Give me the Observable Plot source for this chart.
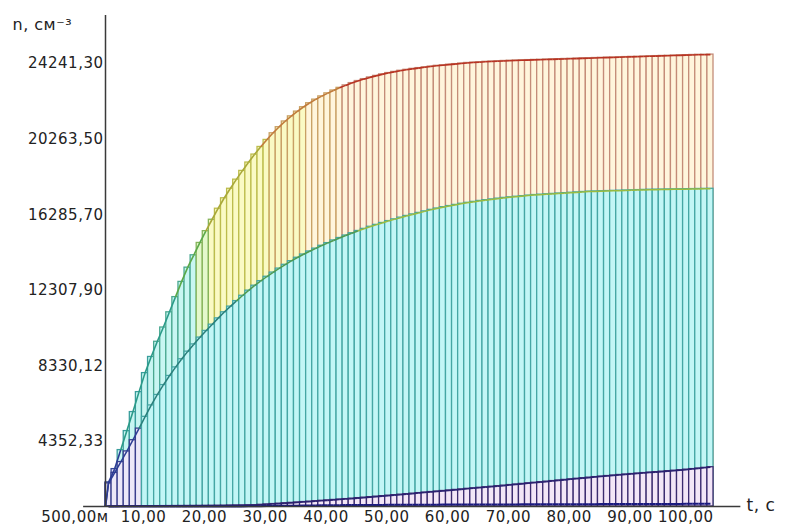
<!DOCTYPE html>
<html>
<head>
<meta charset="utf-8">
<script src="https://cdn.jsdelivr.net/npm/d3@7"></script>
<script src="https://cdn.jsdelivr.net/npm/@observablehq/plot@0.6"></script>
<style>
  html, body { margin: 0; padding: 0; background: #ffffff; }
  #chart { width: 790px; height: 527px; }
</style>
</head>
<body>
<div id="chart"></div>
<script>
// ---- data ----
const times = d3.range(1, 101); // t, s (one bar per second)

const topSeries = [
  2200, 2900, 3900, 4900, 5900, 6950, 7950, 8800, 9600, 10350,
  11150, 11950, 12750, 13500, 14150, 14800, 15420, 16020, 16600, 17150,
  17650, 18130, 18590, 19030, 19450, 19850, 20220, 20570, 20890, 21190,
  21460, 21710, 21940, 22150, 22340, 22510, 22670, 22820, 22960, 23090,
  23210, 23320, 23420, 23510, 23590, 23670, 23740, 23800, 23860, 23910,
  23960, 24000, 24040, 24080, 24120, 24150, 24180, 24210, 24240, 24270,
  24290, 24310, 24330, 24345, 24360, 24375, 24390, 24400, 24410, 24420,
  24430, 24440, 24450, 24460, 24470, 24480, 24490, 24500, 24510, 24520,
  24530, 24540, 24550, 24560, 24570, 24580, 24590, 24600, 24610, 24620,
  24630, 24640, 24650, 24660, 24670, 24680, 24690, 24700, 24705, 24710
];

const cyanSeries = [
  2150, 2700, 3270, 3830, 4420, 5030, 5650, 6250, 6800, 7320,
  7800, 8250, 8680, 9080, 9460, 9820, 10170, 10500, 10830, 11150,
  11450, 11740, 12020, 12290, 12550, 12790, 13020, 13240, 13450, 13650,
  13840, 14020, 14190, 14350, 14500, 14650, 14790, 14930, 15060, 15190,
  15310, 15430, 15540, 15650, 15750, 15850, 15950, 16040, 16130, 16220,
  16300, 16380, 16460, 16540, 16610, 16680, 16740, 16800, 16860, 16910,
  16960, 17010, 17050, 17090, 17130, 17170, 17200, 17230, 17260, 17290,
  17320, 17340, 17360, 17380, 17400, 17420, 17440, 17460, 17480, 17500,
  17510, 17520, 17530, 17540, 17550, 17560, 17570, 17580, 17590, 17600,
  17605, 17610, 17615, 17620, 17625, 17630, 17635, 17640, 17645, 17650
];

const purpleSeries = [
  935, 937, 939, 941, 943, 945, 947, 949, 951, 953,
  955, 957, 959, 961, 963, 966, 969, 972, 975, 978,
  982, 986, 990, 995, 1000, 1020, 1040, 1060, 1080, 1100,
  1122, 1144, 1166, 1188, 1210, 1232, 1254, 1276, 1298, 1320,
  1346, 1372, 1398, 1424, 1450, 1476, 1502, 1528, 1554, 1580,
  1608, 1636, 1664, 1692, 1720, 1748, 1776, 1804, 1832, 1860,
  1888, 1916, 1944, 1972, 2000, 2030, 2060, 2090, 2120, 2150,
  2180, 2210, 2240, 2270, 2300, 2330, 2360, 2390, 2420, 2450,
  2478, 2506, 2534, 2562, 2590, 2615, 2640, 2665, 2690, 2715,
  2740, 2765, 2790, 2815, 2840, 2870, 2900, 2930, 2965, 3000
];

const navySeries = [
  932, 932, 932, 932, 932, 932, 932, 932, 932, 932,
  932, 932, 932, 932, 932, 932, 932, 932, 932, 932,
  934, 936, 938, 940, 945, 950, 955, 960, 965, 970,
  974, 978, 982, 986, 990, 993, 996, 999, 1002, 1005,
  1007, 1009, 1011, 1013, 1015, 1017, 1019, 1021, 1023, 1025,
  1026, 1027, 1028, 1029, 1030, 1031, 1032, 1033, 1034, 1035,
  1036, 1037, 1038, 1039, 1040, 1041, 1042, 1043, 1044, 1045,
  1046, 1047, 1048, 1049, 1050, 1051, 1052, 1053, 1054, 1055,
  1056, 1057, 1058, 1059, 1060, 1061, 1062, 1063, 1064, 1065,
  1066, 1067, 1068, 1069, 1070, 1071, 1072, 1073, 1074, 1075
];

const yTicks = [4352.33, 8330.12, 12307.90, 16285.70, 20263.50, 24241.30];
const xTicks = [0.5, 10, 20, 30, 40, 50, 60, 70, 80, 90, 100];
const xTickLabels = ["500,00м", "10,00", "20,00", "30,00", "40,00", "50,00",
                     "60,00", "70,00", "80,00", "90,00", "100,00"];
const yAxisLabel = "n, см⁻³";
const xAxisLabel = "t, c";
const yMin = 932, yMax = 26767;   // visible value range of the y axis

// ---- colours ----
function topStroke(v) {
  return v < 3000 ? "#34479a" : v < 9000 ? "#3a9e9c" : v < 14500 ? "#4aa890"
       : v < 16500 ? "#86b45a" : v < 20500 ? "#bcbc4c" : v < 23000 ? "#c8a064" : "#c48c78";
}
function topFill(v) {
  return v < 3000 ? "#e4e0f6" : v < 14500 ? "#c8f6f2" : v < 16000 ? "#e4f8cc"
       : v < 22000 ? "#fafac4" : "#fff5dc";
}
function cyanStroke(v) { return v < 5100 ? "#3a3f8e" : "#45a6a4"; }
function cyanFill(v) { return v < 5100 ? "#ece8f8" : "#c2f6f6"; }
function topEdge(v) {
  return v < 4000 ? "#2c3c94" : v < 12000 ? "#2a9a88" : v < 16000 ? "#5aa848"
       : v < 20000 ? "#a8a838" : v < 23000 ? "#c07a3a" : "#b83222";
}
function cyanEdge(v) {
  return v < 5100 ? "#2c3c94" : v < 12000 ? "#287e7a" : v < 15500 ? "#4e9a50" : "#9cbc3c";
}

// ---- table building ----
const bars = s => times.map((t, i) => ({t, v: s[i]}));
function edges(s, withStart) {
  const pts = times.map((t, i) => ({x: t - 0.5, v: s[i]}));
  if (withStart) pts.unshift({x: 0, v: yMin});
  const out = [];
  for (let i = 0; i < pts.length - 1; i++) {
    out.push({x1: pts[i].x, y1: pts[i].v, x2: pts[i + 1].x, y2: pts[i + 1].v});
  }
  return out;
}
const fmt = v => d3.format(".2f")(v).replace(".", ",");
const xLabelOf = new Map(xTicks.map((d, i) => [d, xTickLabels[i]]));

const chart = Plot.plot({
  width: 790,
  height: 527,
  marginLeft: 105,
  marginRight: 77,
  marginTop: 15,
  marginBottom: 21,
  x: {domain: [0, 100], axis: null},
  y: {domain: [yMin, yMax], axis: null},
  color: {type: "identity"},
  style: {fontFamily: "DejaVu Sans, sans-serif", fontSize: "15px", color: "#222", background: "#fff", letterSpacing: "0.5px"},
  marks: [
    Plot.rect(bars(topSeries), {x1: d => d.t - 1, x2: d => d.t, y1: yMin, y2: "v",
      fill: d => topFill(d.v), stroke: d => topStroke(d.v), strokeWidth: 1.3}),
    Plot.rect(bars(cyanSeries), {x1: d => d.t - 1, x2: d => d.t, y1: yMin, y2: "v",
      fill: d => cyanFill(d.v), stroke: d => cyanStroke(d.v), strokeWidth: 1.3}),
    Plot.rect(bars(purpleSeries), {x1: d => d.t - 1, x2: d => d.t, y1: yMin, y2: "v",
      fill: "#f3e6f7", stroke: "#3c2c70", strokeWidth: 1.3}),
    Plot.link(edges(topSeries, true), {x1: "x1", y1: "y1", x2: "x2", y2: "y2",
      stroke: d => topEdge(d.y2), strokeWidth: 1.6}),
    Plot.link(edges(cyanSeries, true), {x1: "x1", y1: "y1", x2: "x2", y2: "y2",
      stroke: d => cyanEdge(d.y2), strokeWidth: 1.5}),
    Plot.link(edges(purpleSeries, false), {x1: "x1", y1: "y1", x2: "x2", y2: "y2",
      stroke: "#2a2070", strokeWidth: 1.5}),
    Plot.link(edges(navySeries, false), {x1: "x1", y1: "y1", x2: "x2", y2: "y2",
      stroke: "#1a1a80", strokeWidth: 2}),
    // axes lines
    Plot.ruleY([yMin], {x1: -3.6, x2: 104.5, stroke: "#3a3a3a", strokeWidth: 1.5}),
    Plot.ruleX([0], {y1: yMin, y2: yMax, stroke: "#3a3a3a", strokeWidth: 1.5}),
    // tick labels
    Plot.text(yTicks, {x: 0, y: d => d, text: d => fmt(d), textAnchor: "end", dx: -2, fontSize: 15, fill: "#222"}),
    Plot.text(xTicks, {x: d => d, y: yMin, text: d => xLabelOf.get(d), textAnchor: "end", dy: 11, fontSize: 15, fill: "#222"}),
    // axis titles
    Plot.text([yAxisLabel], {frameAnchor: "top-left", text: d => d, textAnchor: "start", dx: -93, dy: 3, fontSize: 16, fill: "#222"}),
    Plot.text([xAxisLabel], {frameAnchor: "bottom-right", text: d => d, textAnchor: "start", dx: 33, dy: 4, fontSize: 17, fill: "#222"})
  ]
});
document.getElementById("chart").appendChild(chart);
</script>
</body>
</html>
